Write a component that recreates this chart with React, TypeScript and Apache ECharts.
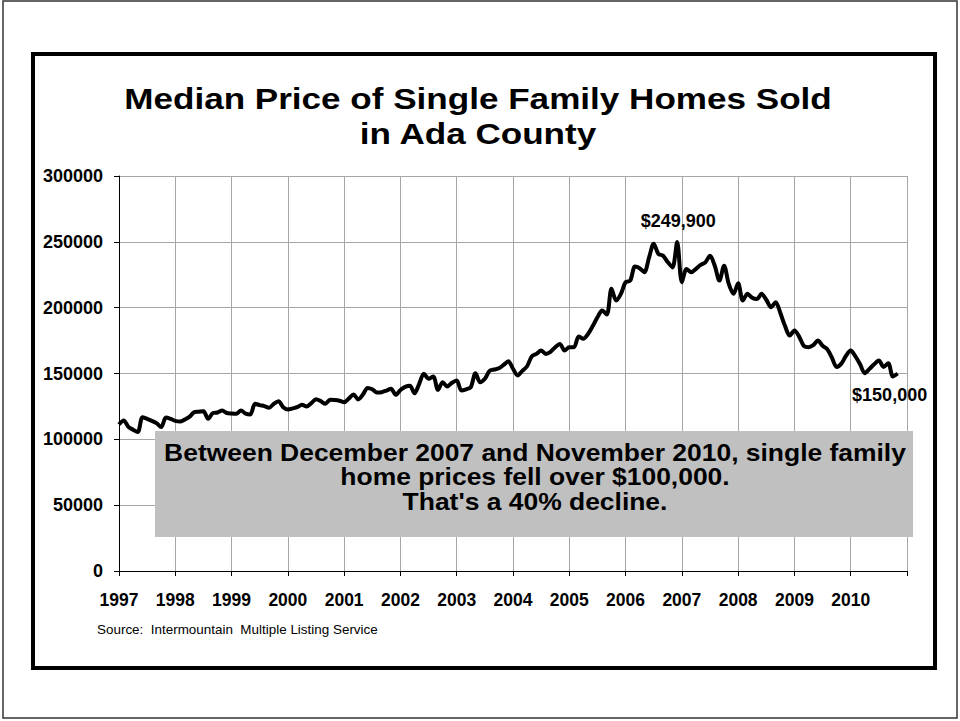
import React, { useEffect, useRef } from "react";
import * as echarts from "echarts";

// Monthly median price, Jan 1997 .. Nov 2010
const price1997 = [111300, 114300, 109500, 107300, 105500, 116800, 115500, 114000, 112300, 109300, 116500, 115500];
const price1998 = [114000, 113500, 115000, 117000, 120500, 121000, 121400, 115600, 119900, 120400, 121900, 120000];
const price1999 = [119600, 119400, 121900, 119500, 118900, 127000, 126000, 125200, 124000, 127000, 129000, 124400];
const price2000 = [122700, 123500, 124400, 126200, 125000, 127500, 130500, 129000, 127000, 130000, 129800, 129300];
const price2001 = [128200, 131000, 134100, 130300, 134000, 139000, 138000, 135500, 135800, 137000, 138400, 133800];
const price2002 = [137500, 139800, 140700, 135000, 142200, 149800, 146000, 147700, 137600, 143400, 140100, 143000];
const price2003 = [144700, 137100, 138000, 139600, 150200, 143400, 146000, 152000, 153000, 154000, 156500, 159300];
const price2004 = [153600, 148500, 152000, 155500, 163000, 164900, 167400, 164900, 166500, 170000, 172500, 167400];
const price2005 = [169900, 169900, 178100, 176300, 180000, 186000, 192700, 197800, 194800, 214300, 205400, 210500];
const price2006 = [219300, 220600, 231200, 230000, 226900, 238000, 248500, 240800, 239500, 234500, 230600, 249900];
const price2007 = [219300, 229400, 226900, 229500, 232500, 234400, 239500, 232000, 220600, 231900, 218000, 210500];
const price2008 = [218500, 205400, 210500, 207500, 206500, 210500, 206000, 200300, 204100, 196000, 186000, 178800];
const price2009 = [182600, 178000, 171000, 170000, 171500, 175000, 171000, 168500, 162000, 155000, 157500, 163500];
const price2010 = [167400, 163000, 157000, 150200, 153500, 157000, 159900, 155000, 157800, 147700, 150000];

const yearLabels = ["1997", "1998", "1999", "2000", "2001", "2002", "2003", "2004", "2005", "2006", "2007", "2008", "2009", "2010"];

const titleLines = ["Median Price of Single Family Homes Sold", "in Ada County"];
const boxLines = [
  "Between December 2007 and November 2010, single family",
  "home prices fell over $100,000.",
  "That's a 40% decline.",
];
const peakLabel = "$249,900";
const lastLabel = "$150,000";
const sourceText = "Source:  Intermountain  Multiple Listing Service";

const allPrices = [
  ...price1997, ...price1998, ...price1999, ...price2000, ...price2001, ...price2002, ...price2003,
  ...price2004, ...price2005, ...price2006, ...price2007, ...price2008, ...price2009, ...price2010,
];

export default function App() {
  const ref = useRef<HTMLDivElement>(null);
  useEffect(() => {
    if (!ref.current) return;
    const chart = echarts.init(ref.current, undefined, { renderer: "svg" });
    const data = allPrices.map((v, i) => [i, v]);
    const peakIndex = allPrices.indexOf(249900);
    const lastIndex = allPrices.length - 1;
    const axisFont = {
      fontFamily: "'Liberation Sans', Arial, sans-serif",
      fontWeight: "bold" as const,
      fontSize: 18,
      color: "#000",
    };
    chart.setOption({
      animation: false,
      backgroundColor: "#fff",
      grid: { left: 119, right: 53, top: 176, bottom: 150, containLabel: false },
      xAxis: {
        type: "value",
        min: 0,
        max: 168,
        interval: 12,
        axisLine: { onZero: false, lineStyle: { color: "#000", width: 1 } },
        axisTick: { show: true, length: 5, lineStyle: { color: "#000" } },
        axisLabel: {
          ...axisFont,
          fontSize: 17.5,
          margin: 20,
          formatter: (v: number) => yearLabels[v / 12] ?? "",
        },
        splitLine: { show: true, lineStyle: { color: "#a6a6a6", width: 1 } },
      },
      yAxis: {
        type: "value",
        min: 0,
        max: 300000,
        interval: 50000,
        axisLine: { show: true, lineStyle: { color: "#000", width: 1 } },
        axisTick: { show: true, length: 5, lineStyle: { color: "#000" } },
        axisLabel: { ...axisFont, margin: 16, formatter: (v: number) => String(v) },
        splitLine: { show: true, lineStyle: { color: "#a6a6a6", width: 1 } },
      },
      series: [
        {
          type: "line",
          data,
          showSymbol: false,
          smooth: 0.3,
          lineStyle: { color: "#000", width: 4 },
          z: 3,
          markPoint: {
            symbol: "circle",
            symbolSize: 0,
            silent: true,
            label: {
              show: true,
              fontFamily: "'Liberation Sans', Arial, sans-serif",
              fontWeight: "bold",
              fontSize: 18,
              color: "#000",
            },
            data: [
              {
                coord: [peakIndex, allPrices[peakIndex]],
                label: { position: "top", distance: 12, offset: [1, 0], formatter: peakLabel },
              },
              {
                coord: [lastIndex, allPrices[lastIndex]],
                label: { position: "bottom", distance: 12, offset: [-8, 0], formatter: lastLabel },
              },
            ],
          },
        },
      ],
      graphic: [
        {
          type: "rect",
          silent: true,
          z: 100,
          shape: { x: 3, y: 1, width: 954, height: 717 },
          style: { fill: "none", stroke: "#333", lineWidth: 1.5 },
        },
        {
          type: "rect",
          silent: true,
          z: 100,
          shape: { x: 33, y: 54, width: 902, height: 614 },
          style: { fill: "none", stroke: "#000", lineWidth: 4 },
        },
        ...titleLines.map((t, i) => ({
          type: "text",
          silent: true,
          z: 100,
          x: 478,
          y: 98 + i * 35,
          scaleX: 1.17,
          style: {
            text: t,
            align: "center",
            verticalAlign: "middle",
            fontFamily: "'Liberation Sans', Arial, sans-serif",
            fontWeight: "bold",
            fontSize: 30,
            fill: "#000",
          },
        })),
        {
          type: "rect",
          silent: true,
          z: 100,
          shape: { x: 155, y: 431, width: 758, height: 106 },
          style: { fill: "#c0c0c0" },
        },
        ...boxLines.map((t, i) => ({
          type: "text",
          silent: true,
          z: 101,
          x: 535,
          y: 453 + i * 24.5,
          scaleX: 1.15,
          style: {
            text: t,
            align: "center",
            verticalAlign: "middle",
            fontFamily: "'Liberation Sans', Arial, sans-serif",
            fontWeight: "bold",
            fontSize: 23,
            fill: "#000",
          },
        })),
        {
          type: "text",
          silent: true,
          z: 100,
          x: 97,
          y: 630,
          scaleX: 1.12,
          style: {
            text: sourceText,
            align: "left",
            verticalAlign: "middle",
            fontFamily: "'Liberation Sans', Arial, sans-serif",
            fontSize: 12,
            fill: "#000",
          },
        },
      ],
    });
    return () => chart.dispose();
  }, []);
  return (
    <div
      ref={ref}
      style={{ position: "absolute", left: 0, top: 0, width: 960, height: 721 }}
    />
  );
}
